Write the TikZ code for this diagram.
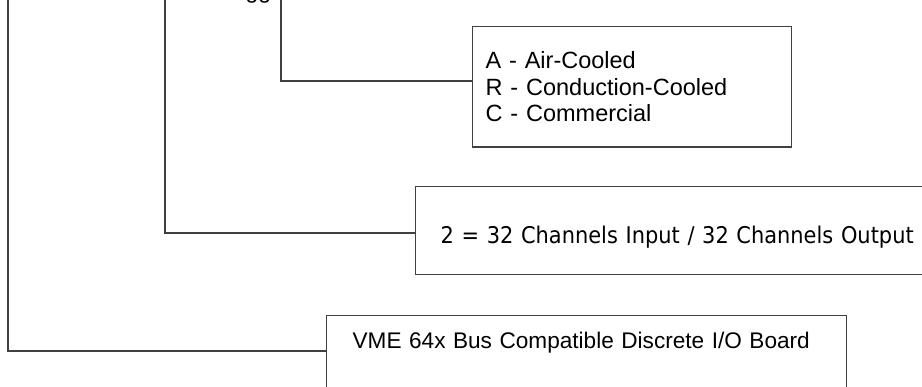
\documentclass[tikz,border=0pt]{standalone}
\usepackage{fontspec}
\setmainfont{Liberation Sans}
\newfontfamily\tahomalike[FakeStretch=0.91]{DejaVu Sans}
\usetikzlibrary{positioning}
\newlength{\leadtop}
\setlength{\leadtop}{3pt}
\newcommand{\coolingtext}{A - Air-Cooled \\ R - Conduction-Cooled \\ C - Commercial}
\newcommand{\channeltext}{\tahomalike 2 = 32 Channels Input / 32 Channels Output}
\newcommand{\boardtext}{VME 64x Bus Compatible Discrete I/O Board}

\begin{document}
\begin{tikzpicture}[x=1pt, y=-1pt, line width=1.3pt,
  option/.style={rectangle, draw=black!75, anchor=north west, align=left, font=\fontsize{23.5}{26.5}\selectfont},
  lead/.style={draw=black!75}]
  \useasboundingbox (0,0) rectangle (922,387);
  \clip (0,0) rectangle (922,387);

  %Option boxes, partly cut off at the page edges
  \draw (472,26) node[option, text width=293pt, inner xsep=13pt, inner ysep=25pt] (A) {\coolingtext};
  \draw (415,186) node[option, text width=520pt, inner xsep=25pt, inner ysep=0pt, text height=57pt, text depth=31pt, font=\fontsize{23}{26.5}\selectfont] (B) {\channeltext};
  \draw (326,315) node[option, text width=468pt, inner xsep=26pt, inner ysep=0pt, text height=33pt, text depth=60pt, font=\fontsize{22.6}{26.5}\selectfont] (C) {\boardtext};

  %Label above the page, only its descenders show
  \draw (245,-1) node[anchor=base west, inner sep=0pt, font=\fontsize{23}{26.5}\selectfont] (G) {gg};

  %Free ends of the leads at the top
  \coordinate (a) at (281,\leadtop);
  \coordinate (b) at (165,\leadtop);
  \coordinate (c) at (8,\leadtop);

  %Leads into the boxes
  \draw[lead] (a) |- ([yshift=-55pt]A.north west);
  \draw[lead] (b) |- ([yshift=-47pt]B.north west);
  \draw[lead] (c) |- ([yshift=-36pt]C.north west);
\end{tikzpicture}
\end{document}
